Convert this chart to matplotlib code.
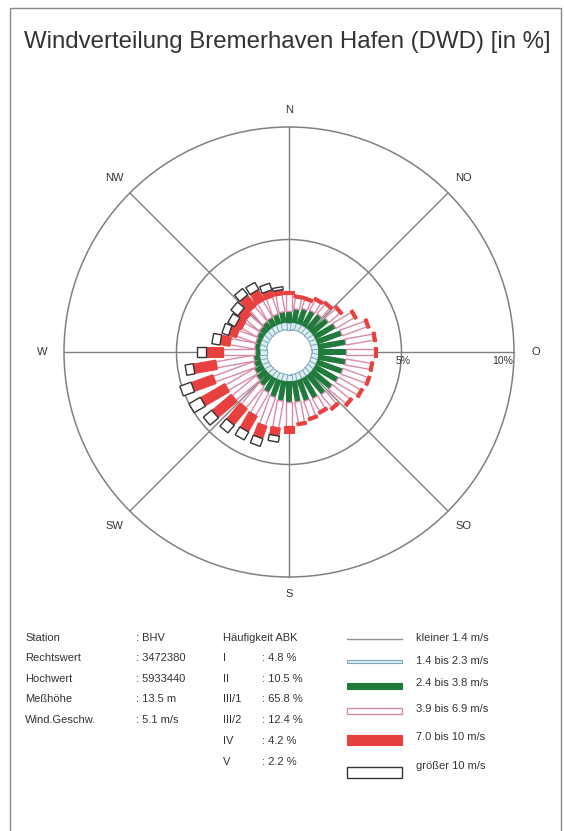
import numpy as np
import matplotlib.pyplot as plt
from matplotlib.patches import Polygon, Rectangle, Circle

# wind directions (deg, from north, clockwise), 10 degree sectors
directions = np.arange(0, 360, 10)

# share per sector and speed class [%] (stacked outwards)
calm = 1.0  # kleiner 1.4 m/s -> empty centre
cls_14_23 = [0.31] * 36
cls_24_38 = [0.53, 0.62, 0.71, 0.76, 0.80, 0.89, 1.02, 1.16, 1.24, 1.24, 1.24, 1.20,
             1.16, 1.11, 1.07, 1.02, 0.98, 0.93, 0.93, 0.89, 0.80, 0.71, 0.58, 0.49,
             0.40, 0.31, 0.27, 0.22, 0.22, 0.22, 0.27, 0.31, 0.36, 0.40, 0.44, 0.49]
cls_39_69 = [0.76, 0.49, 0.40, 0.49, 0.53, 0.62, 0.93, 1.16, 1.24, 1.24, 1.11, 1.16,
             1.11, 0.98, 0.71, 0.62, 0.76, 0.93, 1.07, 1.20, 1.33, 1.16, 1.24, 1.38,
             1.47, 1.91, 1.69, 1.42, 1.11, 0.89, 0.76, 0.76, 0.84, 0.84, 0.80, 0.76]
cls_70_10 = [0.13, 0.13, 0.13, 0.13, 0.13, 0.13, 0.13, 0.13, 0.13, 0.13, 0.13, 0.13,
             0.13, 0.13, 0.13, 0.13, 0.13, 0.13, 0.27, 0.36, 0.58, 0.80, 0.93, 1.11,
             1.24, 1.02, 1.02, 0.76, 0.44, 0.36, 0.31, 0.40, 0.62, 0.53, 0.31, 0.22]
cls_gt10 = [0, 0, 0, 0, 0, 0, 0, 0, 0, 0, 0, 0,
            0, 0, 0, 0, 0, 0, 0, 0.27, 0.36, 0.40, 0.44, 0.49,
            0.58, 0.53, 0.36, 0.40, 0.36, 0.31, 0.36, 0.40, 0.36, 0.36, 0.31, 0.13]

# class styles: (label, face, edge, bar width in %, edge lw, legend height px)
classes = [
    ("1.4 bis 2.3 m/s", "#dcefef", "#7fa8c0", 0.24, 0.7, 3),
    ("2.4 bis 3.8 m/s", "#1f7a3c", "none", 0.25, 0.0, 6),
    ("3.9 bis 6.9 m/s", "white", "#d98aa6", 0.27, 1.0, 6),
    ("7.0 bis 10 m/s", "#e8403f", "#e8403f", 0.42, 0.8, 10),
    ("größer 10 m/s", "white", "#333333", 0.46, 1.0, 11),
]
series = [cls_14_23, cls_24_38, cls_39_69, cls_70_10, cls_gt10]

compass = ["N", "NO", "O", "SO", "S", "SW", "W", "NW"]

station_keys = ["Station", "Rechtswert", "Hochwert", "Meßhöhe", "Wind.Geschw."]
station_vals = [": BHV", ": 3472380", ": 5933440", ": 13.5 m", ": 5.1 m/s"]
abk_keys = ["I", "II", "III/1", "III/2", "IV", "V"]
abk_vals = [": 4.8 %", ": 10.5 %", ": 65.8 %", ": 12.4 %", ": 4.2 %", ": 2.2 %"]

W, H = 564, 831
fig = plt.figure(figsize=(W / 100, H / 100), dpi=100)
plt.rcParams['font.family'] = ['Liberation Sans', 'DejaVu Sans']
txt = "#333333"
fs = 8


def fx(px):
    return px / W


def fy(py):
    return 1 - py / H


# outer frame
fig.patches.append(Rectangle((fx(10), fy(840)), fx(551), 840 / H - 8 / H,
                             transform=fig.transFigure, fill=False,
                             edgecolor="#888888", lw=1.0))

fig.text(fx(287), fy(42), "Windverteilung Bremerhaven Hafen (DWD) [in %]",
         ha="center", va="center", fontsize=17.3, color=txt)

# rose axes: centre (289, 352) px, 10 % = 225 px
cx, cy, scale, lim = 289, 352, 22.5, 11.6
half = lim * scale
ax = fig.add_axes([fx(cx - half), fy(cy + half), 2 * half / W, 2 * half / H])
ax.set_xlim(-lim, lim)
ax.set_ylim(-lim, lim)
ax.set_aspect("equal")
ax.axis("off")

grid = "#808080"
for r in [5, 10]:
    ax.add_patch(Circle((0, 0), r, fill=False, edgecolor=grid, lw=1.1, zorder=1))
for i, lab in enumerate(compass):
    a = np.deg2rad(i * 45)
    ax.plot([calm * np.sin(a), 10 * np.sin(a)], [calm * np.cos(a), 10 * np.cos(a)],
            color=grid, lw=1.0, zorder=1)
    rr = 10.75 if lab in ["N", "S"] else 10.95
    ax.text(rr * np.sin(a), rr * np.cos(a), lab, ha="center", va="center",
            fontsize=fs, color=txt)
ax.text(5.05, -0.2, "5%", ha="center", va="top", fontsize=7.5, color=txt)
ax.text(9.95, -0.2, "10%", ha="right", va="top", fontsize=7.5, color=txt)

# stacked bars as rectangles of constant width
base = np.full(len(directions), calm)
for (lab, face, edge, width, elw, _), vals in zip(classes, series):
    vals = np.asarray(vals, dtype=float)
    for d, r0, dv in zip(directions, base, vals):
        if dv <= 0:
            continue
        a = np.deg2rad(d)
        u = np.array([np.sin(a), np.cos(a)])
        v = np.array([np.cos(a), -np.sin(a)])
        r1 = r0 + dv
        h = width / 2
        pts = [r0 * u - h * v, r1 * u - h * v, r1 * u + h * v, r0 * u + h * v]
        ax.add_patch(Polygon(pts, closed=True, facecolor=face, edgecolor=edge,
                             lw=elw, zorder=3))
    base = base + vals

# station info
rows_y = [638, 658, 679, 699, 720, 741, 762]
for k, v, y in zip(station_keys, station_vals, rows_y):
    fig.text(fx(25), fy(y), k, ha="left", va="center", fontsize=fs, color=txt)
    fig.text(fx(136), fy(y), v, ha="left", va="center", fontsize=fs, color=txt)
fig.text(fx(223), fy(638), "Häufigkeit ABK", ha="left", va="center", fontsize=fs, color=txt)
for k, v, y in zip(abk_keys, abk_vals, rows_y[1:]):
    fig.text(fx(223), fy(y), k, ha="left", va="center", fontsize=fs, color=txt)
    fig.text(fx(262), fy(y), v, ha="left", va="center", fontsize=fs, color=txt)

# legend
leg_y = [639, 661, 686, 711, 740, 772]
lab_y = [638, 661, 683, 709, 737, 766]
x0, x1 = 347, 402
fig.lines.append(plt.Line2D([fx(x0), fx(x1)], [fy(leg_y[0])] * 2, transform=fig.transFigure,
                            color="#909090", lw=1.0))
fig.text(fx(416), fy(lab_y[0]), "kleiner 1.4 m/s", ha="left", va="center",
         fontsize=fs, color=txt)
for (lab, face, edge, width, elw, hpx), ly, ty in zip(classes, leg_y[1:], lab_y[1:]):
    fig.patches.append(Rectangle((fx(x0), fy(ly + hpx / 2)), fx(x1 - x0), hpx / H,
                                 transform=fig.transFigure, facecolor=face,
                                 edgecolor=edge if edge != "none" else face, lw=max(elw, 0.8)))
    fig.text(fx(416), fy(ty), lab, ha="left", va="center", fontsize=fs, color=txt)

fig.savefig("out.png", dpi=100, facecolor="white")
